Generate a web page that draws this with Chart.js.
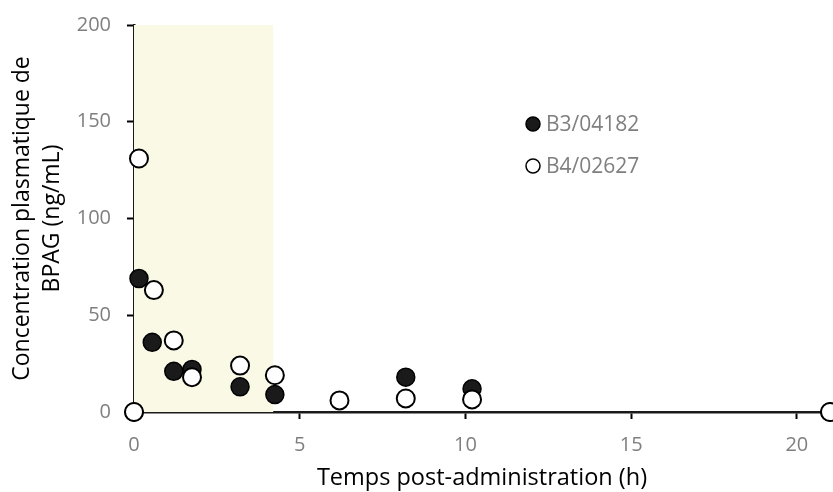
<!DOCTYPE html>
<html>
<head>
<meta charset="utf-8">
<script src="https://cdn.jsdelivr.net/npm/chart.js@4"></script>
<style>
  html, body { margin: 0; padding: 0; background: #fff; }
  #wrap { width: 833px; height: 492px; }
</style>
</head>
<body>
<div id="wrap"><canvas id="pk"></canvas></div>
<script>
var seriesNames = ['B3/04182', 'B4/02627'];
var timesB3 = [0, 0.15, 0.55, 1.2, 1.75, 3.2, 4.25, 8.2, 10.2, 21];
var concB3 = [0, 69, 36, 21, 22, 13, 9, 18, 12, 0];
var timesB4 = [0, 0.15, 0.6, 1.2, 1.75, 3.2, 4.25, 6.2, 8.2, 10.2, 21];
var concB4 = [0, 131, 63, 37, 18, 24, 19, 6, 7, 6.5, 0];
var xTicks = [0, 5, 10, 15, 20];
var yTicks = [0, 50, 100, 150, 200];
var bandEnd = 4.2;

function pts(xs, ys) {
  return xs.map(function (x, i) { return { x: x, y: ys[i] }; });
}

var FONT = '"Open Sans", sans-serif';

var shade = {
  id: 'shade',
  beforeDatasetsDraw: function (chart) {
    var c = chart.ctx, x = chart.scales.x, y = chart.scales.y;
    c.save();
    c.fillStyle = '#faf9e6';
    var x0 = x.getPixelForValue(0), x1 = x.getPixelForValue(bandEnd);
    var y0 = y.getPixelForValue(200), y1 = y.getPixelForValue(0);
    c.fillRect(x0, y0, x1 - x0, y1 - y0);
    c.restore();
  }
};

var legendBox = {
  id: 'legendBox',
  afterDraw: function (chart) {
    var c = chart.ctx;
    c.save();
    c.font = '21px ' + FONT;
    c.textBaseline = 'middle';
    var rows = [[124, '#1a1a1a'], [166, '#ffffff']];
    rows.forEach(function (r, i) {
      c.beginPath();
      c.arc(533, r[0], 7, 0, Math.PI * 2);
      c.fillStyle = r[1];
      c.fill();
      c.lineWidth = 1.5;
      c.strokeStyle = '#000';
      c.stroke();
      c.fillStyle = '#7f7f7f';
      c.fillText(seriesNames[i], 546, r[0] + 1);
    });
    c.restore();
  }
};

new Chart(document.getElementById('pk'), {
  type: 'scatter',
  data: {
    datasets: [{
      label: seriesNames[0],
      data: pts(timesB3, concB3),
      order: 1,
      pointRadius: 9,
      pointBackgroundColor: '#1a1a1a',
      pointBorderColor: '#000',
      pointBorderWidth: 1.5,
      clip: false
    }, {
      label: seriesNames[1],
      data: pts(timesB4, concB4),
      order: 0,
      pointRadius: 9,
      pointBackgroundColor: '#fff',
      pointBorderColor: '#000',
      pointBorderWidth: 2,
      clip: false
    }]
  },
  options: {
    responsive: true,
    maintainAspectRatio: false,
    animation: false,
    layout: { autoPadding: false, padding: { top: 25, right: 3, left: 0, bottom: 0 } },
    plugins: {
      legend: { display: false },
      tooltip: { enabled: false }
    },
    scales: {
      x: {
        type: 'linear',
        min: 0,
        max: 21,
        afterBuildTicks: function (axis) {
          axis.ticks = xTicks.map(function (v) { return { value: v }; });
        },
        afterFit: function (axis) {
          axis.height = 80;
          axis.paddingLeft = 0;
          axis.paddingRight = 0;
        },
        grid: { drawOnChartArea: false, drawTicks: true, tickLength: 7, tickColor: '#000', tickWidth: 2 },
        border: { color: '#1a1a1a', width: 2.5 },
        ticks: { color: '#7f7f7f', font: { family: FONT, size: 20 }, padding: 14 },
        title: { display: true, text: 'Temps post-administration (h)', color: '#000', font: { family: FONT, size: 23.5, lineHeight: 1.2 }, padding: { top: 0, bottom: 0 } }
      },
      y: {
        min: 0,
        max: 200,
        afterBuildTicks: function (axis) {
          axis.ticks = yTicks.map(function (v) { return { value: v }; });
        },
        afterFit: function (axis) {
          axis.width = 134;
          axis.paddingTop = 0;
          axis.paddingBottom = 0;
        },
        grid: { drawOnChartArea: false, drawTicks: true, tickLength: 7, tickColor: '#000', tickWidth: 2 },
        border: { color: '#1a1a1a', width: 2.5 },
        ticks: { color: '#7f7f7f', font: { family: FONT, size: 20 }, padding: 16 },
        title: { display: true, text: ['Concentration plasmatique de', 'BPAG (ng/mL)'], color: '#000', font: { family: FONT, size: 23, lineHeight: 1.3 }, padding: { top: 8, bottom: 0 } }
      }
    }
  },
  plugins: [shade, legendBox]
});
</script>
</body>
</html>
